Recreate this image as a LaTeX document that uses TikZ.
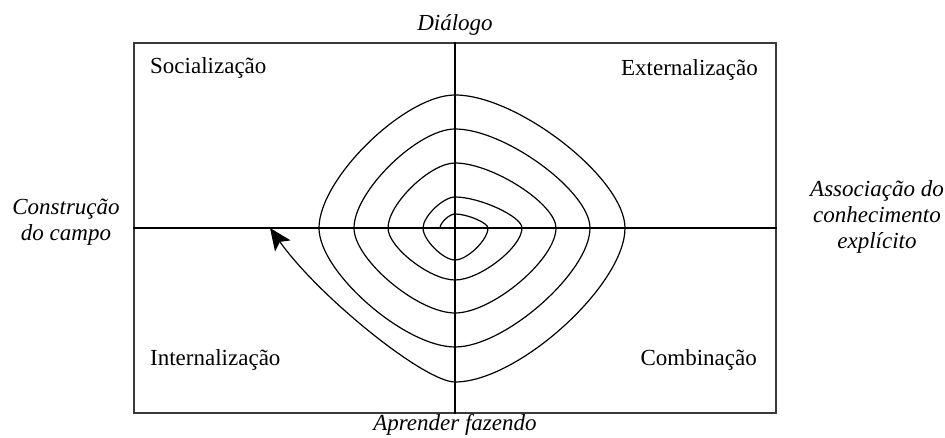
\documentclass[tikz,border=0pt]{standalone}
\usepackage{fontspec}
\setmainfont{Liberation Serif}
\usepackage{xcolor}
\usepackage{tikz}
\usetikzlibrary{positioning, arrows.meta, calc}
\definecolor{framegray}{HTML}{3A3A3A}

\begin{document}
\begin{tikzpicture}[x=1pt, y=1pt,
    quadlabel/.style={font=\fontsize{23}{27}\selectfont, inner sep=0pt},
    axislabel/.style={font=\fontsize{23}{26}\selectfont\itshape, align=center, inner sep=0pt},
    axisline/.style={line width=2pt},
    spiralline/.style={line width=1.2pt, line join=round}]
    \useasboundingbox (-455,-210) rectangle (490,228);
    \node[draw=framegray, line width=1.6pt, minimum width=642pt,
          minimum height=370pt, inner sep=0pt] (frame) at (0,0) {};
    \draw[axisline] (frame.west) -- (frame.east);
    \draw[axisline] (frame.north) -- (frame.south);

    \node[quadlabel, anchor=west] (social) at (-305,160) {Socialização};
    \node[quadlabel, anchor=east] (extern) at (303,158) {Externalização};
    \node[quadlabel, anchor=west] (intern) at (-305,-132) {Internalização};
    \node[quadlabel, anchor=east] (combin) at (302,-132) {Combinação};

    \node[axislabel] (dialogo) at (0,203) {Diálogo};
    \node[axislabel] (aprender) at (0,-197) {Aprender fazendo};
    \node[axislabel] (campo) at (-389,6) {Construção\\do campo};
    \node[axislabel] (explicito) at (422,11) {Associação do\\conhecimento\\explícito};

    \foreach \x/\y [count=\n from 0] in {-15/0, 0/14, 33/0, 0/-32, -32/0, 0/31,
        67/0, 0/-52, -67/0, 0/65, 101/0, 0/-85, -101/0, 0/99, 135/0, 0/-119,
        -136/0, 0/133, 170/0, 0/-154}
      \coordinate (s\n) at (\x,\y);
    \coordinate (tip) at (-185,0);

    \draw[spiralline] (s0)
      foreach \j [remember=\j as \i (initially 0)] in {1,...,19} {
        .. controls ($(s\i)+0.37*(s\j)$) and ($(s\j)+0.37*(s\i)$) .. (s\j)
      };
    \draw[spiralline, -{Stealth[length=22pt, width=19pt, inset=5pt]}] (s19)
      .. controls (-30,-154) and (-135,-70) .. (tip);
\end{tikzpicture}
\end{document}
